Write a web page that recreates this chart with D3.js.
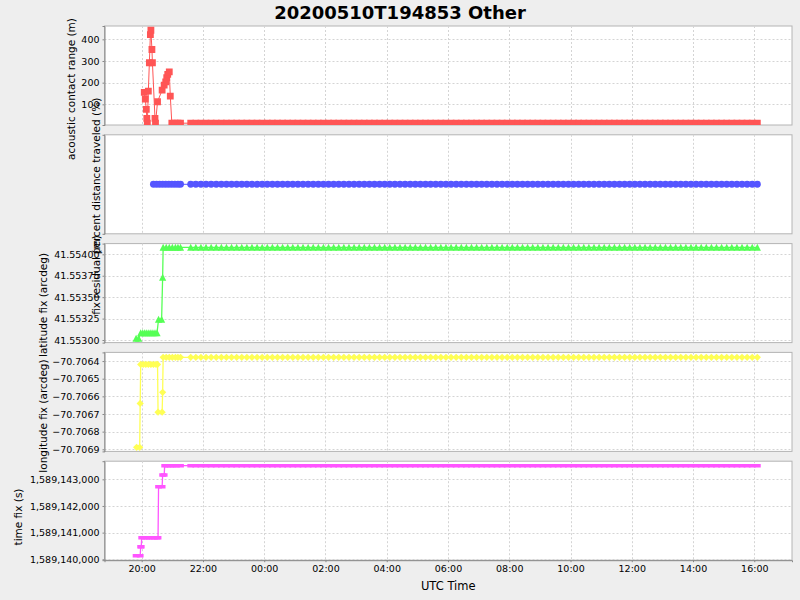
<!DOCTYPE html>
<html><head><meta charset="utf-8">
<script src="https://cdn.jsdelivr.net/npm/d3@7"></script>
<style>
body{margin:0;background:#eeeeee;}
svg{display:block;}
text{font-family:"DejaVu Sans",sans-serif;fill:#000;}
</style>
</head><body>
<svg id="c" width="800" height="600"></svg>
<script>
// ---------------- DATA (times = minutes after 2020-05-10 00:00 UTC) ----------------
const chartTitle = "20200510T194853 Other";
const xAxisTitle = "UTC Time";
const panelTitles = ["acoustic contact range (m)", "percent distance traveled (%)", "latitude fix (arcdeg)", "longitude fix (arcdeg)", "time fix (s)"];
const extraTitle = "fix residual (m)";

const rangeTicks = [100, 200, 300, 400];
const latTicks = [41.553, 41.55325, 41.5535, 41.55375, 41.554];
const lonTicks = [-70.7069, -70.7068, -70.7067, -70.7066, -70.7065, -70.7064];
const fixTicks = [1589140000, 1589141000, 1589142000, 1589143000];

// early (irregular) samples per series
const rangeTimes  = [1205,1207,1209,1210,1211,1213,1215,1217,1218,1220,1221,1226,1227,1231,1240,1244,1247,1249,1251,1254,1256,1259,1265,1271,1276];
const rangeValues = [155,124,77,35,13,161,292,422,442,353,292,35,13,112,166,189,204,223,238,250,138,13,13,13,13];

const percentTimes  = [1223,1229,1235,1241,1247,1253,1259,1265,1271,1276];
const percentValues = [0,0,0,0,0,0,0,0,0,0];

const latTimes  = [1189,1194,1198,1202,1206,1210,1214,1218,1222,1226,1230,1233,1239,1241,1242,1248,1254,1260,1266,1271,1276];
const latValues = [41.55302,41.55302,41.553085,41.553085,41.553085,41.553085,41.553085,41.553085,41.553085,41.553085,41.553085,41.553242,41.553242,41.553732,41.554082,41.554082,41.554082,41.554082,41.554082,41.554082,41.554082];

const lonTimes  = [1190,1196,1197,1198,1203,1208,1213,1218,1223,1228,1231,1232,1240,1241,1242,1248,1254,1260,1266,1271,1276];
const lonValues = [-70.706889,-70.706889,-70.70664,-70.706419,-70.706419,-70.706419,-70.706419,-70.706419,-70.706419,-70.706419,-70.706419,-70.70669,-70.70669,-70.706577,-70.706379,-70.706379,-70.706379,-70.706379,-70.706379,-70.706379,-70.706379];

const fixTimes  = [1189,1197,1198,1199,1200,1205,1210,1215,1220,1225,1230,1232,1233,1240,1241,1244,1245,1250,1256,1262,1268,1276];
const fixValues = [1589140135,1589140135,1589140470,1589140470,1589140810,1589140810,1589140810,1589140810,1589140810,1589140810,1589140810,1589140810,1589142720,1589142720,1589143160,1589143160,1589143510,1589143510,1589143510,1589143510,1589143510,1589143510];

// regular samples after the data gap (shared times)
const tailTimes = [
1296,1306,1316,1326,1336,1346,1356,1366,1376,1386,1396,1406,1416,1426,1436,1446,
1456,1466,1476,1486,1496,1506,1516,1526,1536,1546,1556,1566,1576,1586,1596,1606,
1616,1626,1636,1646,1656,1666,1676,1686,1696,1706,1716,1726,1736,1746,1756,1766,
1776,1786,1796,1806,1816,1826,1836,1846,1856,1866,1876,1886,1896,1906,1916,1926,
1936,1946,1956,1966,1976,1986,1996,2006,2016,2026,2036,2046,2056,2066,2076,2086,
2096,2106,2116,2126,2136,2146,2156,2166,2176,2186,2196,2206,2216,2226,2236,2246,
2256,2266,2276,2286,2296,2306,2316,2326,2336,2346,2356,2366,2376,2386,2396,2406];
const rangeTail = [
13,13,13,13,13,13,13,13,13,13,13,13,13,13,13,13,
13,13,13,13,13,13,13,13,13,13,13,13,13,13,13,13,
13,13,13,13,13,13,13,13,13,13,13,13,13,13,13,13,
13,13,13,13,13,13,13,13,13,13,13,13,13,13,13,13,
13,13,13,13,13,13,13,13,13,13,13,13,13,13,13,13,
13,13,13,13,13,13,13,13,13,13,13,13,13,13,13,13,
13,13,13,13,13,13,13,13,13,13,13,13,13,13,13,13];
const percentTail = [
0,0,0,0,0,0,0,0,0,0,0,0,0,0,0,0,
0,0,0,0,0,0,0,0,0,0,0,0,0,0,0,0,
0,0,0,0,0,0,0,0,0,0,0,0,0,0,0,0,
0,0,0,0,0,0,0,0,0,0,0,0,0,0,0,0,
0,0,0,0,0,0,0,0,0,0,0,0,0,0,0,0,
0,0,0,0,0,0,0,0,0,0,0,0,0,0,0,0,
0,0,0,0,0,0,0,0,0,0,0,0,0,0,0,0];
const latTail = [
41.554082,41.554082,41.554082,41.554082,41.554082,41.554082,41.554082,41.554082,41.554082,41.554082,41.554082,41.554082,41.554082,41.554082,41.554082,41.554082,
41.554082,41.554082,41.554082,41.554082,41.554082,41.554082,41.554082,41.554082,41.554082,41.554082,41.554082,41.554082,41.554082,41.554082,41.554082,41.554082,
41.554082,41.554082,41.554082,41.554082,41.554082,41.554082,41.554082,41.554082,41.554082,41.554082,41.554082,41.554082,41.554082,41.554082,41.554082,41.554082,
41.554082,41.554082,41.554082,41.554082,41.554082,41.554082,41.554082,41.554082,41.554082,41.554082,41.554082,41.554082,41.554082,41.554082,41.554082,41.554082,
41.554082,41.554082,41.554082,41.554082,41.554082,41.554082,41.554082,41.554082,41.554082,41.554082,41.554082,41.554082,41.554082,41.554082,41.554082,41.554082,
41.554082,41.554082,41.554082,41.554082,41.554082,41.554082,41.554082,41.554082,41.554082,41.554082,41.554082,41.554082,41.554082,41.554082,41.554082,41.554082,
41.554082,41.554082,41.554082,41.554082,41.554082,41.554082,41.554082,41.554082,41.554082,41.554082,41.554082,41.554082,41.554082,41.554082,41.554082,41.554082];
const lonTail = [
-70.706379,-70.706379,-70.706379,-70.706379,-70.706379,-70.706379,-70.706379,-70.706379,-70.706379,-70.706379,-70.706379,-70.706379,-70.706379,-70.706379,-70.706379,-70.706379,
-70.706379,-70.706379,-70.706379,-70.706379,-70.706379,-70.706379,-70.706379,-70.706379,-70.706379,-70.706379,-70.706379,-70.706379,-70.706379,-70.706379,-70.706379,-70.706379,
-70.706379,-70.706379,-70.706379,-70.706379,-70.706379,-70.706379,-70.706379,-70.706379,-70.706379,-70.706379,-70.706379,-70.706379,-70.706379,-70.706379,-70.706379,-70.706379,
-70.706379,-70.706379,-70.706379,-70.706379,-70.706379,-70.706379,-70.706379,-70.706379,-70.706379,-70.706379,-70.706379,-70.706379,-70.706379,-70.706379,-70.706379,-70.706379,
-70.706379,-70.706379,-70.706379,-70.706379,-70.706379,-70.706379,-70.706379,-70.706379,-70.706379,-70.706379,-70.706379,-70.706379,-70.706379,-70.706379,-70.706379,-70.706379,
-70.706379,-70.706379,-70.706379,-70.706379,-70.706379,-70.706379,-70.706379,-70.706379,-70.706379,-70.706379,-70.706379,-70.706379,-70.706379,-70.706379,-70.706379,-70.706379,
-70.706379,-70.706379,-70.706379,-70.706379,-70.706379,-70.706379,-70.706379,-70.706379,-70.706379,-70.706379,-70.706379,-70.706379,-70.706379,-70.706379,-70.706379,-70.706379];
const fixTail = [
1589143510,1589143510,1589143510,1589143510,1589143510,1589143510,1589143510,1589143510,1589143510,1589143510,1589143510,1589143510,1589143510,1589143510,1589143510,1589143510,
1589143510,1589143510,1589143510,1589143510,1589143510,1589143510,1589143510,1589143510,1589143510,1589143510,1589143510,1589143510,1589143510,1589143510,1589143510,1589143510,
1589143510,1589143510,1589143510,1589143510,1589143510,1589143510,1589143510,1589143510,1589143510,1589143510,1589143510,1589143510,1589143510,1589143510,1589143510,1589143510,
1589143510,1589143510,1589143510,1589143510,1589143510,1589143510,1589143510,1589143510,1589143510,1589143510,1589143510,1589143510,1589143510,1589143510,1589143510,1589143510,
1589143510,1589143510,1589143510,1589143510,1589143510,1589143510,1589143510,1589143510,1589143510,1589143510,1589143510,1589143510,1589143510,1589143510,1589143510,1589143510,
1589143510,1589143510,1589143510,1589143510,1589143510,1589143510,1589143510,1589143510,1589143510,1589143510,1589143510,1589143510,1589143510,1589143510,1589143510,1589143510,
1589143510,1589143510,1589143510,1589143510,1589143510,1589143510,1589143510,1589143510,1589143510,1589143510,1589143510,1589143510,1589143510,1589143510,1589143510,1589143510];

// ---------------- RENDER ----------------
const svg = d3.select("#c");
const L = 104.5, R = 792;
const tops = [26, 134.8, 243.6, 352.4, 461.2];
const PH = 99;
const toDate = m => new Date(Date.UTC(2020, 4, 10, 0, 0) + m * 60000);

const x = d3.scaleUtc()
  .domain([new Date(Date.UTC(2020,4,10,18,47,6)), new Date(Date.UTC(2020,4,11,17,13,54))])
  .range([L, R]);
const xTicks = x.ticks(d3.utcHour.every(2));

function series(times, vals, tail) {
  return times.concat(tailTimes).map((t, i) => ({t: toDate(t), v: i < vals.length ? vals[i] : tail[i - vals.length]}));
}

const shapes = {
  square: "M-3.4,-3.4H3.4V3.4H-3.4Z",
  circle: d3.symbol(d3.symbolCircle, 38)(),
  triangle: "M0,-3.6L3.6,3.4L-3.6,3.4Z",
  diamond: "M0,-3.6L3.6,0L0,3.6L-3.6,0Z",
  hrect: "M-3.4,-1.8H3.4V1.8H-3.4Z"
};

const LABEL_FS = "10.5px";
const panels = [
  {title: panelTitles[0], data: series(rangeTimes, rangeValues, rangeTail), domain: [4.6, 461.5], ticks: rangeTicks, fmt: d3.format("d"), color: "#ff5555", shape: shapes.square, lx: 71, ly: 89, lw: 1},
  {title: panelTitles[1], data: series(percentTimes, percentValues, percentTail), domain: [-1, 1], ticks: [], fmt: d3.format("d"), color: "#5555ff", shape: shapes.circle, lx: 96, ly: 176, lw: 1},
  {title: panelTitles[2], data: series(latTimes, latValues, latTail), domain: [41.55297, 41.554125], ticks: latTicks, fmt: d3.format(".5f"), color: "#55ff55", shape: shapes.triangle, lx: 43, ly: 305, lw: 1.3},
  {title: panelTitles[3], data: series(lonTimes, lonValues, lonTail), domain: [-70.706912, -70.706351], ticks: lonTicks, fmt: d3.format(".4f"), color: "#ffff55", shape: shapes.diamond, lx: 43, ly: 416, lw: 1.3},
  {title: panelTitles[4], data: series(fixTimes, fixValues, fixTail), domain: [1589139966, 1589143679], ticks: fixTicks, fmt: d3.format(","), color: "#ff55ff", shape: shapes.hrect, lx: 18, ly: 517, lw: 1.3}
];

const defs = svg.append("defs");

panels.forEach((p, i) => {
  const top = tops[i], bot = top + PH;
  const y = d3.scaleLinear().domain(p.domain).range([bot, top]);
  const g = svg.append("g");
  g.append("rect").attr("x", L).attr("y", top).attr("width", R - L).attr("height", PH)
    .attr("fill", "#fff").attr("stroke", "#b4b4b4").attr("stroke-width", 1);
  g.selectAll(".vg").data(xTicks).join("line")
    .attr("x1", d => Math.round(x(d)) + 0.5).attr("x2", d => Math.round(x(d)) + 0.5)
    .attr("y1", top).attr("y2", bot)
    .attr("stroke", "#d4d4d4").attr("stroke-dasharray", "2,2");
  g.selectAll(".hg").data(p.ticks).join("line")
    .attr("x1", L).attr("x2", R)
    .attr("y1", d => Math.round(y(d)) + 0.5).attr("y2", d => Math.round(y(d)) + 0.5)
    .attr("stroke", "#d4d4d4").attr("stroke-dasharray", "2,2");
  defs.append("clipPath").attr("id", "clip" + i).append("rect")
    .attr("x", L).attr("y", top).attr("width", R - L).attr("height", PH);
  const dg = g.append("g").attr("clip-path", `url(#clip${i})`);
  const line = d3.line().x(d => x(d.t)).y(d => y(d.v));
  dg.append("path").datum(p.data).attr("d", line)
    .attr("fill", "none").attr("stroke", p.color).attr("stroke-width", p.lw);
  dg.selectAll(".m").data(p.data).join("path")
    .attr("transform", d => `translate(${x(d.t)},${y(d.v)})`)
    .attr("d", p.shape).attr("fill", p.color);
  const ax = g.append("g").attr("transform", `translate(${L},0)`)
    .call(d3.axisLeft(y).tickValues(p.ticks).tickFormat(p.fmt).tickSize(2).tickPadding(3));
  ax.select(".domain").attr("stroke", "#888");
  ax.selectAll(".tick line").attr("stroke", "#888");
  ax.selectAll(".tick text").attr("font-size", "9.5px").attr("font-family", "DejaVu Sans").attr("fill", "#000");
  svg.append("text")
    .attr("transform", `translate(${p.lx},${p.ly}) rotate(-90)`)
    .attr("text-anchor", "middle").attr("dominant-baseline", "central")
    .attr("font-size", LABEL_FS).text(p.title);
  if (i === 2) {
    svg.append("text")
      .attr("transform", `translate(96,275) rotate(-90)`)
      .attr("text-anchor", "middle").attr("dominant-baseline", "central")
      .attr("font-size", LABEL_FS).text(extraTitle);
  }
  if (i === 4) {
    const xa = g.append("g").attr("transform", `translate(0,${bot})`)
      .call(d3.axisBottom(x).tickValues(xTicks).tickFormat(d3.utcFormat("%H:%M")).tickSize(2).tickPadding(3));
    xa.select(".domain").attr("stroke", "#888");
    xa.selectAll(".tick line").attr("stroke", "#888");
    xa.selectAll(".tick text").attr("font-size", "9.5px").attr("font-family", "DejaVu Sans").attr("fill", "#000");
  }
});

svg.append("text").attr("x", (L + R) / 2).attr("y", 590).attr("text-anchor", "middle")
  .attr("font-size", "11.5px").text(xAxisTitle);
svg.append("text").attr("x", 400).attr("y", 19).attr("text-anchor", "middle")
  .attr("font-size", "18px").attr("font-weight", "bold").text(chartTitle);
</script>
</body></html>
